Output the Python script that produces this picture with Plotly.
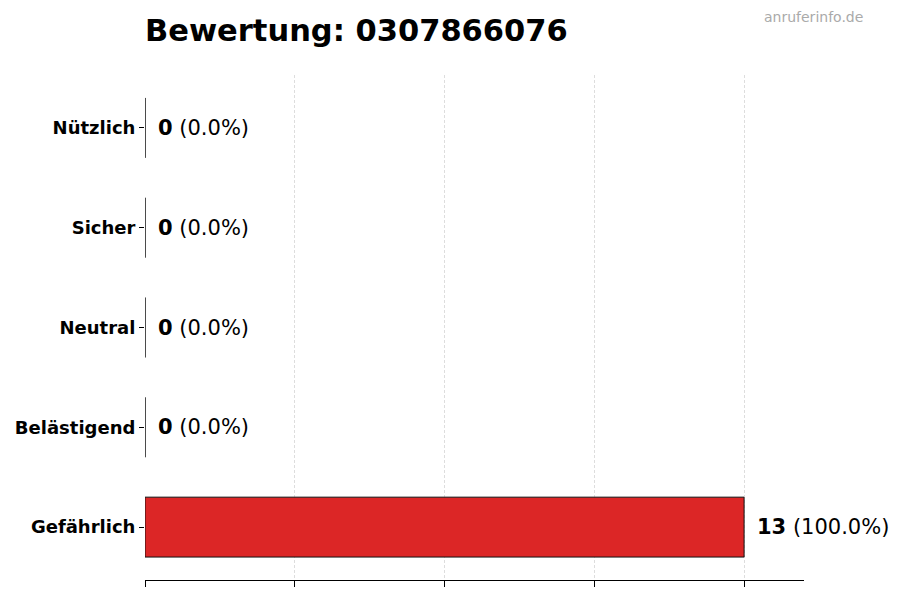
import plotly.graph_objects as go

# ratings data (bottom to top as drawn)
categories = ["Gefährlich", "Belästigend", "Neutral", "Sicher", "Nützlich"]
counts = [13, 0, 0, 0, 0]
percents = [100.0, 0.0, 0.0, 0.0, 0.0]
grid_ticks = [0, 3.25, 6.5, 9.75, 13]

bar_color = "#dc2626"
font = "DejaVu Sans"

fig = go.Figure()

fig.add_trace(go.Bar(
    x=counts, y=categories, orientation="h",
    width=0.6,
    marker=dict(color=bar_color, line=dict(color="#111111", width=1)),
    hoverinfo="skip",
))

# thin edge for the empty bars (zero length bars are not drawn by plotly)
fig.add_trace(go.Scatter(
    x=[0] * len(categories), y=categories, mode="markers",
    marker=dict(size=0.1, color="rgba(0,0,0,0)"),
    error_y=dict(type="constant", value=0.3, width=0, thickness=1, color="#111111"),
    hoverinfo="skip",
))

for cat, c, p in zip(categories, counts, percents):
    fig.add_annotation(
        x=c, y=cat, xref="x", yref="y",
        text=f"<b>{c}</b> ({p:.1f}%)",
        showarrow=False, xanchor="left", yanchor="middle", xshift=11,
        font=dict(family=font, size=21, color="#000000"),
    )

# watermark
fig.add_annotation(
    x=1.0137, y=1.1149, xref="paper", yref="paper",
    text="anruferinfo.de", showarrow=False, xanchor="center", yanchor="middle",
    font=dict(family=font, size=14, color="#aaaaaa"),
)

# page puts the plot 8px in from the corner, so margins are shifted by 8
fig.update_layout(
    width=900, height=600,
    margin=dict(l=137, r=104, t=67, b=28),
    paper_bgcolor="white", plot_bgcolor="white",
    showlegend=False,
    title=dict(
        text="<b>Bewertung: 0307866076</b>",
        x=137 / 900, xanchor="left", xref="container",
        y=1 - 22 / 600, yanchor="middle", yref="container",
        font=dict(family=font, size=30.5, color="#000000"),
    ),
    xaxis=dict(
        range=[0, 14.3], tickvals=grid_ticks, showticklabels=False,
        ticks="outside", ticklen=6, tickcolor="#000000",
        showline=True, linecolor="#000000", linewidth=1,
        showgrid=True, gridcolor="#dddddd", griddash="3px,2px", gridwidth=1,
        zeroline=False, automargin=False,
    ),
    yaxis=dict(
        categoryorder="array", categoryarray=categories,
        range=[-0.53, 4.53],
        ticks="outside", ticklen=5, tickcolor="#000000",
        showline=False, showgrid=False, zeroline=False,
        ticklabelstandoff=0, automargin=False,
        tickprefix="<b>", ticksuffix="</b>",
        tickfont=dict(family=font, size=18, color="#000000"),
    ),
)

fig.write_html("out.html")
